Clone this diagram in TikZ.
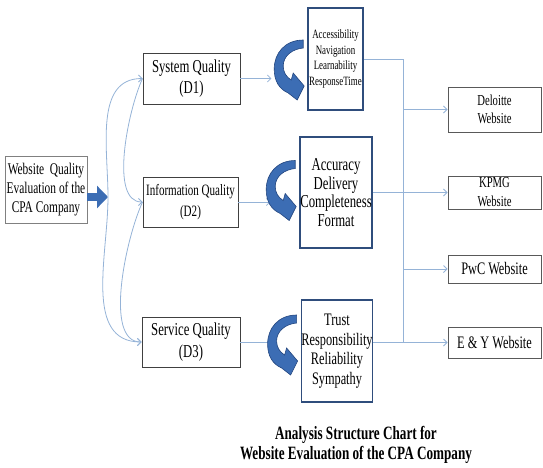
\documentclass[tikz,border=0pt]{standalone}
\usepackage{fontspec}
\setmainfont{Liberation Serif}[FakeStretch=0.7]
\usetikzlibrary{arrows.meta,calc}
\definecolor{linkblue}{HTML}{95B3D7}
\definecolor{curveblue}{HTML}{3C6DB4}
\definecolor{curveedge}{HTML}{23467F}
\definecolor{boxblue}{HTML}{2F4D7C}
\tikzset{
  srcbox/.style={draw=black!50, line width=0.8pt, align=center, inner sep=1pt},
  dimbox/.style={draw=black!75, line width=0.9pt, align=center, inner sep=0pt, font=\fontsize{18.2}{20.5}\selectfont},
  itembox/.style={draw=boxblue, line width=1.6pt, align=center, inner sep=0pt},
  sitebox/.style={draw=black!65, line width=0.9pt, align=center, inner sep=0pt, minimum width=93pt},
  link/.style={draw=linkblue, line width=0.8pt, -{Straight Barb[length=3.5pt,width=7pt]}},
  bus/.style={draw=linkblue, line width=0.8pt},
  fatarrow/.style={draw=curveblue, line width=8pt, -{Triangle[length=11pt,width=22pt]}},
  curve/.style={fill=curveblue, draw=curveedge, line width=0.6pt}
}
\begin{document}
\begin{tikzpicture}[x=1pt,y=-1pt]
\useasboundingbox (0,0) rectangle (543,467);

\node[srcbox, minimum width=82pt, minimum height=67pt, font=\fontsize{16.3}{19}\selectfont] (main) at (46,190) {Website\ \ Quality\\Evaluation of the\\CPA Company};

\node[dimbox, minimum width=97pt, minimum height=51pt] (d1) at (191.5,78.5) {System Quality\\(D1)};
\node[dimbox, minimum width=95pt, minimum height=50pt, font=\fontsize{15.8}{21}\selectfont] (d2) at (190.5,202) {Information Quality\\(D2)};
\node[dimbox, minimum width=98pt, minimum height=50pt, font=\fontsize{18.2}{22}\selectfont] (d3) at (191,342) {Service Quality\\(D3)};

\node[itembox, minimum width=55pt, minimum height=102pt, font=\fontsize{12.7}{15.5}\selectfont] (acc) at (335.5,59) {Accessibility\\Navigation\\Learnability\\ResponseTime};
\node[itembox, minimum width=72pt, minimum height=111pt, font=\fontsize{18.2}{18.5}\selectfont] (accu) at (336,192.5) {Accuracy\\Delivery\\Completeness\\Format};
\node[itembox, minimum width=70pt, minimum height=102pt, font=\fontsize{17.6}{19.5}\selectfont] (trust) at (337,351) {Trust\\Responsibility\\Reliability\\Sympathy};

\node[sitebox, minimum height=45pt, font=\fontsize{15.2}{18}\selectfont] (del) at (494.5,109.5) {Deloitte\\Website};
\node[sitebox, minimum height=33pt, font=\fontsize{15.2}{19}\selectfont] (kpmg) at (494.5,192.5) {KPMG\\Website};
\node[sitebox, minimum height=28pt, font=\fontsize{17.6}{18}\selectfont] (pwc) at (494.5,269) {PwC Website};
\node[sitebox, minimum height=31pt, font=\fontsize{17.6}{18}\selectfont] (ey) at (494.5,342.5) {E \& Y Website};

\node[align=center, font=\bfseries\fontsize{18.8}{20}\selectfont] (title) at (356,445) {Analysis Structure Chart for\\Website Evaluation of the CPA Company};

\coordinate (fan) at (108,197);
\coordinate (bus) at (403,0);

\draw[fatarrow] (main.east |- fan) -- (fan);
\draw[link] (fan) to[out=90,in=180] (d1.west);
\draw[link] (fan) to[out=-90,in=180] (d3.west);
\draw[link] (d1.west) to[out=-115,in=180,looseness=0.7] (d2.west);
\draw[link] (d2.west) to[out=-115,in=180,looseness=0.7] (d3.west);

\path (d1.east) ++(31,0) coordinate (l1);
\path (d2.east) ++(32,0) coordinate (l2);
\path (d3.east) ++(32,0) coordinate (l3);
\draw[link] (d1.east) -- (l1);
\draw[link] (d2.east) -- (l2);
\draw[link] (d3.east) -- (l3);

\foreach \n/\dy in {acc/10,accu/-3,trust/-7}
  \filldraw[curve, shift={($(\n.west)+(0,\dy)$)}] (-4,-29) .. controls (-22,-29) and (-33,-16) .. (-33,0)
    .. controls (-33,12) and (-28,20) .. (-19,24) -- (-10,31) -- (-3,17) -- (-14,4) -- (-16,11)
    .. controls (-21,8) and (-24,3) .. (-24,-3) .. controls (-24,-13) and (-15,-20) .. (-4,-21) -- cycle;

\draw[bus] (acc.east) -- (acc.east -| bus) -- (bus |- ey.west);
\draw[link] (bus |- del.west) -- (del.west);
\draw[link] (accu.east |- kpmg.west) -- (kpmg.west);
\draw[link] (bus |- pwc.west) -- (pwc.west);
\draw[link] (trust.east |- ey.west) -- (ey.west);
\end{tikzpicture}
\end{document}
